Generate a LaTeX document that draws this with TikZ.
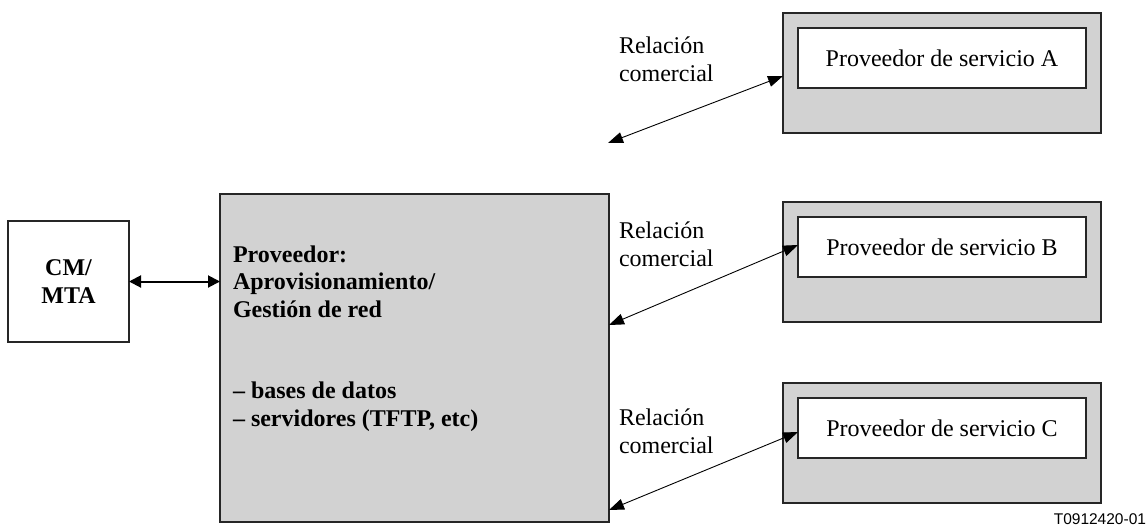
\documentclass[tikz,border=0pt]{standalone}
\usepackage{fontspec}
\setmainfont{Liberation Serif}
\newfontfamily\labelsans{Liberation Sans}
\usetikzlibrary{arrows.meta,calc}
\begin{document}
\begin{tikzpicture}[x=1pt,y=-1pt,
  every node/.style={inner sep=0pt, outer sep=0pt},
  txt/.style={font=\fontsize{24}{28}\selectfont, align=left, anchor=base west},
  btxt/.style={font=\fontsize{24}{27.5}\selectfont\bfseries, align=left, anchor=base west},
  box/.style={draw=black!85, line width=1.2pt, anchor=north west, rectangle},
  grey/.style={box, fill=gray!35},
  inner/.style={box, fill=white, minimum width=288pt, minimum height=60pt,
    text depth=0pt, font=\fontsize{24}{28}\selectfont},
  outerp/.style={grey, minimum width=318pt, minimum height=120pt},
  thinarrow/.style={line width=0.9pt, {Triangle[length=15pt,width=11pt]}-{Triangle[length=15pt,width=11pt]}},
  thickarrow/.style={line width=2pt, {Triangle[length=12pt,width=12pt]}-{Triangle[length=12pt,width=12pt]}}
]
\useasboundingbox (0,0) rectangle (1148,528);

% left boxes
\node[box, fill=white, minimum width=121pt, minimum height=121pt,
  font=\fontsize{24}{28}\selectfont\bfseries, align=center] (cm) at (8,221) {CM/\\MTA};
\node[grey, minimum width=389pt, minimum height=328pt] (main) at (220,194) {};
\node[btxt] (maintitle) at (233,317) {Proveedor:\\Aprovisionamiento/\\Gestión de red};
\node[btxt] (mainlist) at (233,426) {– bases de datos\\– servidores (TFTP, etc)};

% service providers
\node[outerp] (outA) at (783,13) {};
\node[inner] (inA) at (798,28) {Proveedor de servicio A};
\node[outerp] (outB) at (783,202) {};
\node[inner] (inB) at (798,217) {Proveedor de servicio B};
\node[outerp] (outC) at (783,383) {};
\node[inner] (inC) at (798,398) {Proveedor de servicio C};

% labels
\node[txt] (relA) at (619,81) {Relación\\comercial};
\node[txt] (relB) at (619,266) {Relación\\comercial};
\node[txt] (relC) at (619,453) {Relación\\comercial};

\node[font=\labelsans\fontsize{15.5}{18}\selectfont, anchor=base east] (code) at (1146,524) {T0912420-01};

% connectors
\coordinate (aTail) at (608,143);
\draw[thickarrow] (cm.east) -- (main.west |- cm.east);
\draw[thinarrow] (aTail) -- ([yshift=-3pt]outA.west);
\draw[thinarrow] ([yshift=-131pt]main.north east) -- ([yshift=2pt]inB.west);
\draw[thinarrow] ([yshift=-316pt]main.north east) -- ([yshift=-4pt]inC.west);
\end{tikzpicture}
\end{document}
